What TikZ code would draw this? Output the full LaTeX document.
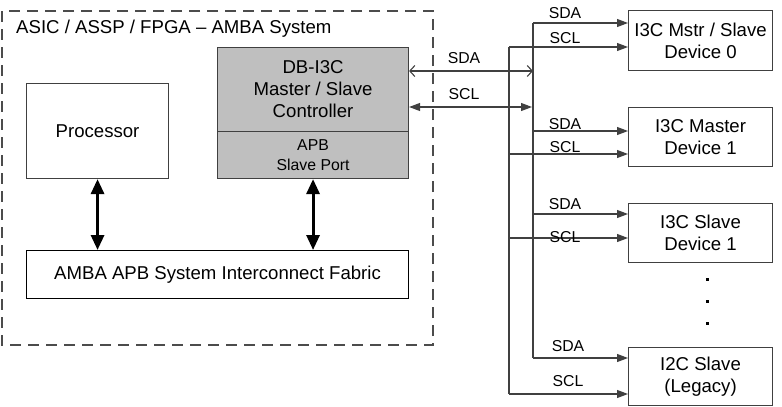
\documentclass[tikz,border=0pt]{standalone}
\usepackage{fontspec}
\setmainfont{Liberation Sans}
\usetikzlibrary{arrows.meta}
\begin{document}
\begin{tikzpicture}[x=1pt,y=-1pt,
  ln/.style={draw=black!75, line width=1.1pt},
  box/.style={ln, anchor=north west, inner sep=0pt, align=center, font=\fontsize{18.6}{22}\selectfont},
  lbl/.style={font=\fontsize{15.8}{18}\selectfont, inner sep=0pt},
  tip/.style={-{Triangle[length=11pt,width=8pt]}},
  dtip/.style={{Triangle[length=11pt,width=8pt]}-{Triangle[length=11pt,width=8pt]}},
  btip/.style={{Straight Barb[length=5pt,width=11pt]}-{Straight Barb[length=5pt,width=11pt]}},
  thick2/.style={draw=black, line width=3pt, {Triangle[length=15pt,width=13pt]}-{Triangle[length=15pt,width=13pt]}},
  dot/.style={rectangle, fill=black, inner sep=0pt, minimum size=3pt}
]
\useasboundingbox (0,0) rectangle (782,407);
% system boundary
\draw[draw=black!70, line width=1.1pt, dash pattern=on 11pt off 7pt] (2,11) rectangle (433,345);
\node[anchor=west, font=\fontsize{18.6}{22}\selectfont, inner sep=0pt] (title) at (16,29) {ASIC / ASSP / FPGA -- AMBA System};
% blocks
\node[box, minimum width=142pt, minimum height=95pt] (proc) at (26,83) {Processor};
\node[box, fill=black!25, minimum width=191pt, minimum height=84pt] (ctl) at (217,47) {DB-I3C\\Master / Slave\\Controller};
\node[box, fill=black!25, minimum width=191pt, minimum height=47pt, font=\fontsize{15.8}{20}\selectfont] (apb) at (217,131) {APB\\Slave Port};
\node[box, draw=black, minimum width=382pt, minimum height=48pt] (fab) at (26,250) {AMBA APB System Interconnect Fabric};
% thick arrows
\draw[thick2] (proc.south) -- (proc.south |- fab.north);
\draw[thick2] (apb.south) -- (apb.south |- fab.north);
% devices
\node[box, minimum width=144pt, minimum height=60pt] (d0) at (628,10) {I3C Mstr / Slave\\Device 0};
\node[box, minimum width=144pt, minimum height=59pt] (d1) at (628,107) {I3C Master\\Device 1};
\node[box, minimum width=144pt, minimum height=59pt] (d2) at (628,203) {I3C Slave\\Device 1};
\node[box, minimum width=144pt, minimum height=58pt] (d3) at (628,347) {I2C Slave\\(Legacy)};
% bus coordinates
\coordinate (sdaTop) at (533,23);
\coordinate (sdaBot) at (533,358);
\coordinate (sclTop) at (509,47);
\coordinate (sclBot) at (509,394);
\coordinate (sdaC) at (533,71);
\coordinate (sclC) at (532,107);
\coordinate (sda1) at (533,131);
\coordinate (scl1) at (509,154);
\coordinate (sda2) at (533,214);
\coordinate (scl2) at (509,238);
% bus verticals
\draw[ln] (sdaTop) -- (sdaBot);
\draw[ln] (sclTop) -- (sclBot);
% controller links
\draw[ln, btip] (ctl.east |- sdaC) -- (sdaC);
\draw[ln, dtip] (ctl.east |- sclC) -- (sclC);
\node[lbl] (lsdaC) at (464,58) {SDA};
\node[lbl] (lsclC) at (464,94) {SCL};
% device links
\draw[ln, tip] (sdaTop) -- (d0.west |- sdaTop);
\draw[ln, tip] (sclTop) -- (d0.west |- sclTop);
\draw[ln, tip] (sda1) -- (d1.west |- sda1);
\draw[ln, tip] (scl1) -- (d1.west |- scl1);
\draw[ln, tip] (sda2) -- (d2.west |- sda2);
\draw[ln, tip] (scl2) -- (d2.west |- scl2);
\draw[ln, tip] (sdaBot) -- (d3.west |- sdaBot);
\draw[ln, tip] (sclBot) -- (d3.west |- sclBot);
\node[lbl] (l0a) at (565,13) {SDA};
\node[lbl] (l0b) at (565,38) {SCL};
\node[lbl] (l1a) at (565,124) {SDA};
\node[lbl] (l1b) at (565,147) {SCL};
\node[lbl] (l2a) at (565,204) {SDA};
\node[lbl] (l2b) at (565,237) {SCL};
\node[lbl] (l3a) at (568,346) {SDA};
\node[lbl] (l3b) at (568,381) {SCL};
% dots
\node[dot] (dt1) at (707,279) {};
\node[dot] (dt2) at (707,301) {};
\node[dot] (dt3) at (707,323) {};
\end{tikzpicture}
\end{document}
